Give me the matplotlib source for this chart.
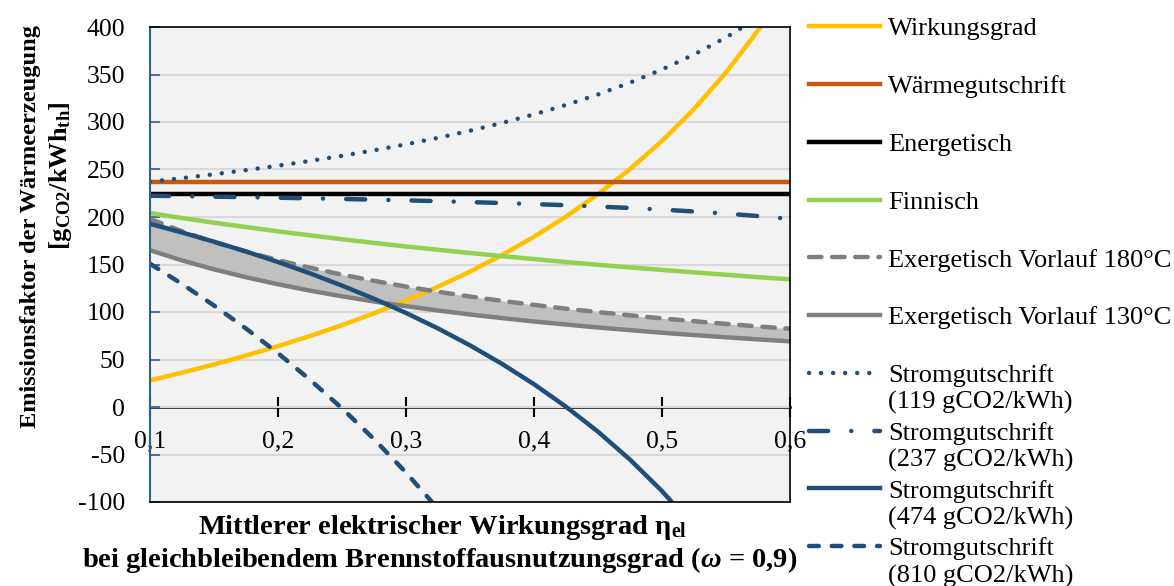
import matplotlib
matplotlib.use("Agg")
import matplotlib.pyplot as plt
from matplotlib.ticker import FuncFormatter

plt.rcParams['font.family'] = ['Liberation Serif', 'DejaVu Serif']
plt.rcParams['axes.unicode_minus'] = False
plt.rcParams['mathtext.fontset'] = 'custom'
plt.rcParams['mathtext.rm'] = 'Liberation Serif:bold'
plt.rcParams['mathtext.bf'] = 'Liberation Serif:bold'
plt.rcParams['mathtext.it'] = 'Liberation Serif:bold:italic'

## electrical efficiency (x axis)
eta_el = [0.1, 0.125, 0.15, 0.175, 0.2, 0.225, 0.25, 0.275, 0.3, 0.325, 0.35,
          0.375, 0.4, 0.425, 0.45, 0.475, 0.5, 0.525, 0.55, 0.575, 0.6]

## emission factor of heat in gCO2/kWh_th per allocation method
wirkungsgrad = [28.0, 36.1, 44.8, 54.1, 64.0, 74.7, 86.2, 98.6, 112.0, 126.6, 142.5,
                160.0, 179.2, 200.4, 224.0, 250.4, 280.0, 313.6, 352.0, 396.3, 448.0]
waermegutschrift = 237
energetisch = 224
finnisch = [204.1, 198.9, 194.0, 189.4, 184.9, 180.7, 176.6, 172.7, 169.0, 165.5, 162.1,
            158.8, 155.7, 152.6, 149.7, 146.9, 144.3, 141.7, 139.2, 136.7, 134.4]
exergie_180 = [198.0, 185.0, 173.6, 163.6, 154.6, 146.6, 139.3, 132.8, 126.8, 121.3, 116.3,
               111.7, 107.5, 103.5, 99.9, 96.5, 93.3, 90.3, 87.5, 84.8, 82.4]
exergie_130 = [165.0, 154.3, 144.9, 136.6, 129.2, 122.5, 116.5, 111.1, 106.1, 101.6, 97.4,
               93.6, 90.0, 86.8, 83.7, 80.9, 78.2, 75.7, 73.4, 71.2, 69.1]
strom_119 = [237.1, 240.9, 245.0, 249.3, 254.0, 259.0, 264.4, 270.2, 276.5, 283.3, 290.8,
             299.0, 308.0, 317.9, 329.0, 341.4, 355.3, 371.0, 389.0, 409.8, 434.0]
strom_237 = [222.4, 221.9, 221.4, 220.9, 220.3, 219.7, 219.0, 218.3, 217.5, 216.7, 215.7,
             214.7, 213.6, 212.4, 211.0, 209.5, 207.8, 205.8, 203.6, 201.0, 198.0]
strom_474 = [192.8, 183.7, 174.0, 163.7, 152.6, 140.7, 127.8, 114.0, 99.0, 82.7, 64.9,
             45.4, 24.0, 0.3, -26.0, -55.4, -88.5, -126.0]
strom_810 = [150.8, 129.5, 106.8, 82.6, 56.6, 28.7, -1.4, -33.8, -69.0, -107.2]

strom_labels = ['(119 gCO2/kWh)', '(237 gCO2/kWh)', '(474 gCO2/kWh)', '(810 gCO2/kWh)']
x_ticks = [0.1, 0.2, 0.3, 0.4, 0.5, 0.6]
y_ticks = [-100, -50, 0, 50, 100, 150, 200, 250, 300, 350, 400]

W, H = 1174, 586
fig = plt.figure(figsize=(W / 100, H / 100), dpi=100)
ax = fig.add_axes([150 / W, 1 - 502 / H, 640 / W, 475 / H])
ax.set_facecolor('#f2f2f2')
ax.set_xlim(0.1, 0.6)
ax.set_ylim(-100, 400)

blue = '#1f4e79'
lw = 3.2

ax.fill_between(eta_el, exergie_130, exergie_180, color='#c0c0c0', lw=0, zorder=1)

h = []
h += ax.plot(eta_el, wirkungsgrad, color='#ffc000', lw=lw, zorder=2)
h.append(ax.axhline(waermegutschrift, color='#c55a11', lw=lw, zorder=2))
h.append(ax.axhline(energetisch, color='black', lw=lw, zorder=2))
h += ax.plot(eta_el, finnisch, color='#92d050', lw=lw, zorder=2)
h += ax.plot(eta_el, exergie_180, color='#7f7f7f', lw=lw, ls=(0, (2.8, 2.4)),
             dash_capstyle='round', zorder=2)
h += ax.plot(eta_el, exergie_130, color='#7f7f7f', lw=lw, zorder=2)
h += ax.plot(eta_el, strom_119, color=blue, lw=lw, ls=(0, (0.01, 2.7)),
             dash_capstyle='round', zorder=2)
h += ax.plot(eta_el, strom_237, color=blue, lw=lw, ls=(0, (4.3, 5.2, 0.01, 5.2)),
             dash_capstyle='round', zorder=2)
h += ax.plot(eta_el[:len(strom_474)], strom_474, color=blue, lw=lw, zorder=2)
h += ax.plot(eta_el[:len(strom_810)], strom_810, color=blue, lw=lw, ls=(0, (2.2, 2.9)),
             dash_capstyle='round', zorder=2)

labels = ['Wirkungsgrad', 'Wärmegutschrift', 'Energetisch', 'Finnisch',
          'Exergetisch Vorlauf 180°C', 'Exergetisch Vorlauf 130°C',
          'Stromgutschrift', 'Stromgutschrift', 'Stromgutschrift', 'Stromgutschrift']

## grid and frame
ax.set_yticks(y_ticks)
ax.yaxis.grid(True, color='#d9d9d9', lw=1.5)
ax.set_axisbelow(True)
ax.tick_params(axis='y', direction='in', length=7, width=1.2, color='#2f5f8f',
               pad=18, labelsize=18.5)
ax.tick_params(axis='x', bottom=False, labelbottom=False)
for s in ['top', 'right', 'bottom']:
    ax.spines[s].set_color('black')
    ax.spines[s].set_linewidth(1.2)
ax.spines['left'].set_color('#2f5f8f')
ax.spines['left'].set_linewidth(1.5)

## x axis drawn through y = 0
y0, y1 = ax.get_ylim()
sec = ax.secondary_xaxis((0 - y0) / (y1 - y0))
sec.set_xticks(x_ticks)
sec.xaxis.set_major_formatter(FuncFormatter(lambda v, p: f'{v:.1f}'.replace('.', ',')))
sec.spines['bottom'].set_color('black')
sec.spines['bottom'].set_linewidth(1.8)
sec.tick_params(direction='inout', length=14, width=1.5, pad=10, labelsize=18.5)

## legend
leg = ax.legend(h, labels, loc='upper left', bbox_to_anchor=(809 / W, 1 - 17 / H),
                bbox_transform=fig.transFigure, frameon=False, fontsize=19,
                handlelength=2.7, handletextpad=0.3, labelspacing=1.3,
                borderpad=0, borderaxespad=0)
for t, sub in zip(leg.get_texts()[6:], strom_labels):
    ax.annotate(sub, xy=(0, 0), xycoords=t, xytext=(0, -3), textcoords='offset points',
                va='top', ha='left', fontsize=19, annotation_clip=False, zorder=6)

## axis titles
fig.text(31 / W, 1 - 227 / H, 'Emissionsfaktor der Wärmeerzeugung', rotation=90,
         ha='center', va='center', fontsize=17.6, fontweight='bold')
fig.text(60 / W, 1 - 176 / H, r'[g$_{\mathbf{CO2}}$/kWh$_{\mathbf{th}}$]', rotation=90,
         ha='center', va='center', fontsize=19, fontweight='bold')
fig.text(443 / W, 1 - 527 / H, r'Mittlerer elektrischer Wirkungsgrad η$_{\mathbf{el}}$',
         ha='center', va='center', fontsize=20.5, fontweight='bold')
fig.text(440 / W, 1 - 560 / H, r'bei gleichbleibendem Brennstoffausnutzungsgrad ($ω$ = 0,9)',
         ha='center', va='center', fontsize=20.5, fontweight='bold')

fig.canvas.draw()
fig.savefig('out.png', dpi=100)
